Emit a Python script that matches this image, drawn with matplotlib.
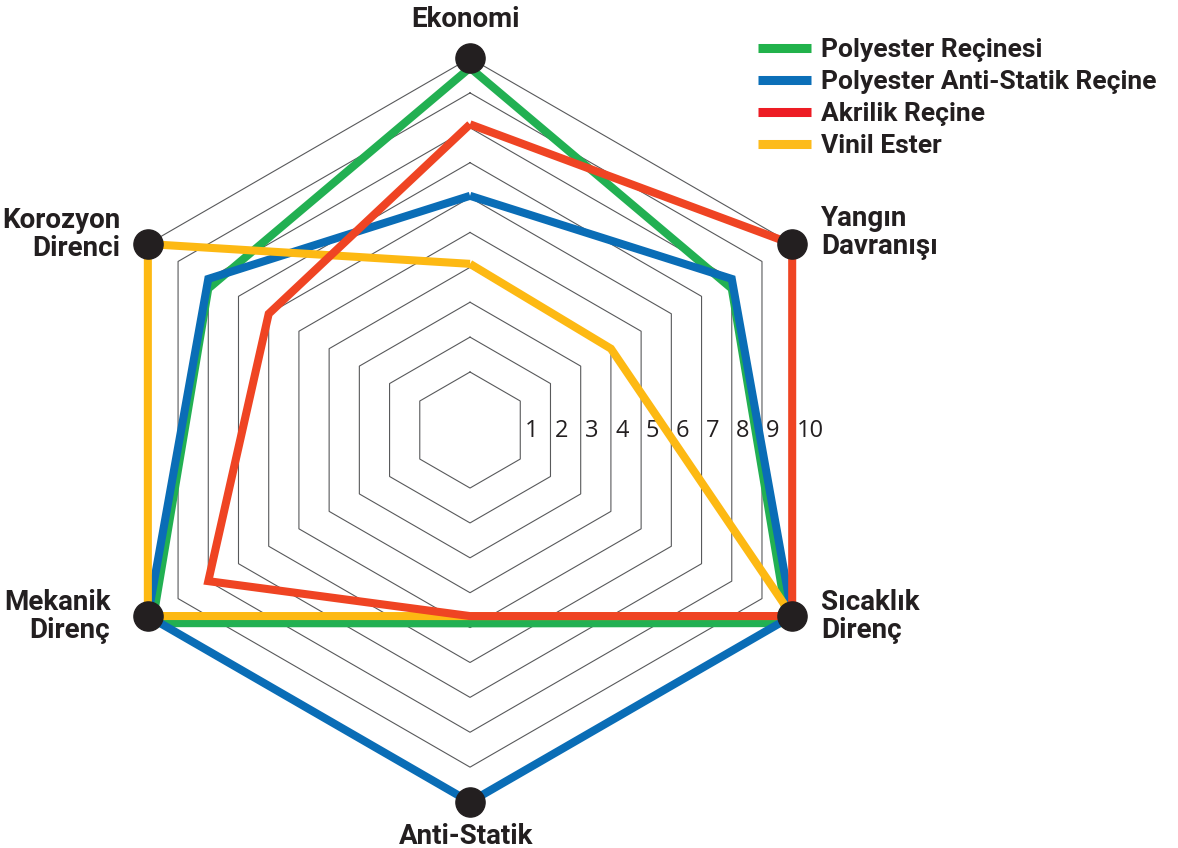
import numpy as np
import matplotlib.pyplot as plt
import matplotlib.transforms as mtransforms
from matplotlib.lines import Line2D

# axes of the radar, clockwise from the top
axis_labels = ['Ekonomi', 'Yangın\nDavranışı', 'Sıcaklık\nDirenç',
               'Anti-Statik', 'Mekanik\nDirenç', 'Korozyon\nDirenci']

series_names = ['Polyester Reçinesi', 'Polyester Anti-Statik Reçine',
                'Akrilik Reçine', 'Vinil Ester']
polyester = [10, 8, 9.85, 4.6, 9.85, 8]
polyester_antistatik = [6.05, 8, 10, 10, 10, 8]
akrilik = [8.1, 10, 10, 4.67, 8, 6]
vinil_ester = [4.1, 4, 10, 4.67, 10, 10]

ring_levels = [1, 2, 3, 4, 5, 6, 7, 8, 9, 10]
tick_labels = ['1', '2', '3', '4', '5', '6', '7', '8', '9', '10']

line_colors = ['#22b052', '#0a6db6', '#ef4423', '#fdb913']
legend_colors = ['#21b24b', '#0b6fb8', '#ed1c24', '#fdbb1b']
text_color = '#231f20'
r_min = -0.663

fig = plt.figure(figsize=(11.78, 8.48), dpi=100)
ax = fig.add_axes([0.0832, 0.0542, 0.6316, 0.8774], projection='polar')
ax.set_theta_offset(np.pi / 2)
ax.set_theta_direction(-1)
ax.set_ylim(r_min, 10)
ax.grid(False)
ax.set_xticks([])
ax.set_yticks([])
ax.spines['polar'].set_visible(False)
ax.patch.set_alpha(0)

angles = np.linspace(0, 2 * np.pi, len(axis_labels), endpoint=False)
closed = np.append(angles, angles[0])

# hexagon grid
for lvl in ring_levels:
    ax.plot(closed, [lvl] * len(closed), color='#58595b', lw=0.8,
            zorder=1, clip_on=False)

# ring numbers along the right side
for lvl, lab in zip(ring_levels, tick_labels):
    r_edge = r_min + np.cos(np.pi / 6) * (lvl - r_min)
    ax.annotate(lab, (np.pi / 2, r_edge), xytext=(3, -1), textcoords='offset points',
                ha='left', va='center', fontsize=17, family='Open Sans',
                color=text_color, zorder=2)

# series (green drawn slightly shifted so it shows beside the others)
green_shift = mtransforms.offset_copy(ax.transData, fig=fig, x=0, y=-7, units='points')
all_series = [polyester, polyester_antistatik, akrilik, vinil_ester]
zorders = [3, 4, 6, 5]
for i, vals in enumerate(all_series):
    kw = dict(color=line_colors[i], lw=5.8, solid_joinstyle='miter',
              solid_capstyle='butt', zorder=zorders[i], clip_on=False)
    if i == 0:
        kw['transform'] = green_shift
    ax.plot(closed, vals + vals[:1], **kw)

# black dots at the outer vertices
ax.plot(angles, [10] * len(angles), 'o', ms=21, color=text_color,
        zorder=10, clip_on=False)

# axis names
label_offsets = [(-3, 28), (21, 8), (21, 0), (-3, -25), (-27, 0), (-20, 7)]
label_ha = ['center', 'left', 'left', 'center', 'right', 'right']
for ang, lab, off, ha in zip(angles, axis_labels, label_offsets, label_ha):
    ax.annotate(lab, (ang, 10), xytext=off, textcoords='offset points',
                ha=ha, va='center', multialignment=ha if ha != 'center' else 'center',
                fontsize=20, fontweight='bold', family='Roboto',
                color=text_color, linespacing=1.05, annotation_clip=False)

handles = [Line2D([], [], color=c, lw=6.5, solid_capstyle='butt') for c in legend_colors]
fig.legend(handles, series_names, loc='upper left',
           bbox_to_anchor=(758 / 1178, 1 - 38 / 848), frameon=False,
           borderpad=0, borderaxespad=0, handlelength=2.0, handletextpad=0.4,
           labelspacing=0.3,
           prop={'family': 'Roboto', 'weight': 'bold', 'size': 19})
for t in fig.legends[0].get_texts():
    t.set_color(text_color)

fig.savefig('out.png', dpi=100)
